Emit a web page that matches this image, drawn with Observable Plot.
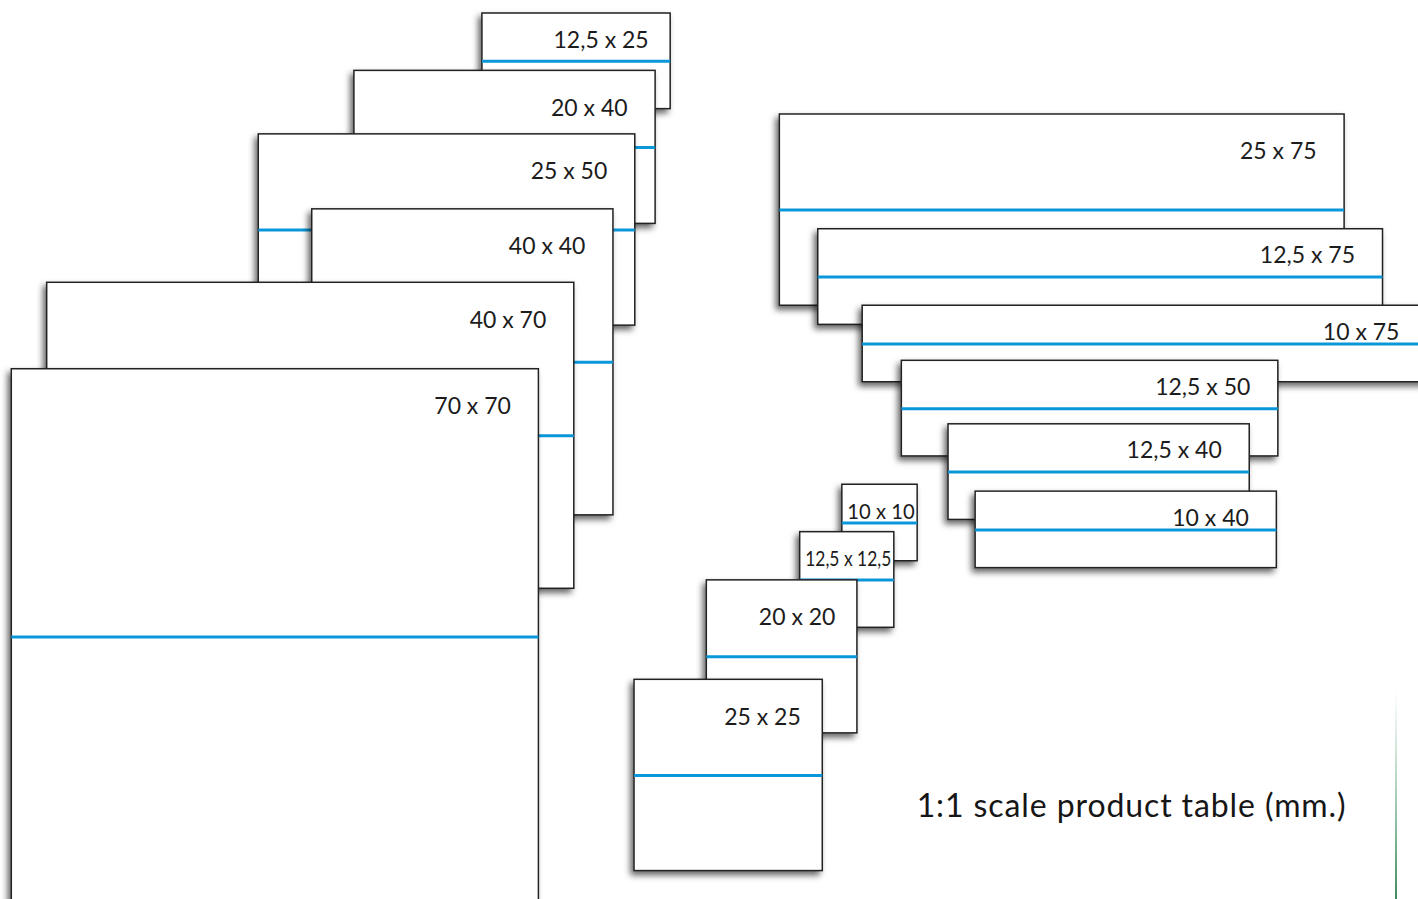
<!DOCTYPE html>
<html><head><meta charset="utf-8">
<script src="https://cdn.jsdelivr.net/npm/d3@7"></script>
<script src="https://cdn.jsdelivr.net/npm/@observablehq/plot@0.6"></script>
<style>html,body{margin:0;padding:0;background:#fff;overflow:hidden}</style>
</head><body><div id="chart"></div>
<script>
// Product sizes "height x width" in mm, back-to-front drawing order
const labels   = ["12,5 x 25","20 x 40","25 x 50","40 x 40","40 x 70","70 x 70",
                  "25 x 75","12,5 x 75","10 x 75","12,5 x 50","12,5 x 40","10 x 40",
                  "10 x 10","12,5 x 12,5","20 x 20","25 x 25"];
const heightMm = [12.5, 20, 25, 40, 40, 70, 25, 12.5, 10, 12.5, 12.5, 10, 10, 12.5, 20, 25];
const widthMm  = [25, 40, 50, 40, 70, 70, 75, 75, 75, 50, 40, 40, 10, 12.5, 20, 25];
// where each sample sits on the sheet (mm from the top-left corner)
const sheetX   = [64.0, 47.0, 34.3, 41.4, 6.2, 1.5, 103.5, 108.6, 114.5, 119.7, 125.9, 129.5, 111.8, 106.2, 93.8, 84.2];
const sheetY   = [1.7, 9.2, 17.5, 27.3, 36.9, 48.2, 14.9, 29.9, 39.9, 47.1, 55.4, 64.2, 63.3, 69.5, 75.8, 88.8];
const caption  = "1:1 scale product table (mm.)";

const W = 1418, H = 899;
const pxPerMmX = 7.53, pxPerMmY = 7.65;

const items = labels.map((label, i) => ({label, h: heightMm[i], w: widthMm[i], x: sheetX[i], y: sheetY[i]}));

const marks = items.flatMap(d => {
  const inset = d.w >= 40 ? 28 : d.w >= 20 ? 22 : 3;
  const base = d.h >= 20 ? 45 : 34;
  const fs = d.w < 20 ? 21 : 23;
  return [
    Plot.rect([d], {x1: "x", x2: v => v.x + v.w, y1: "y", y2: v => v.y + v.h,
      fill: "white", stroke: "#222", strokeWidth: 1.5}),
    Plot.ruleY([d], {y: v => v.y + v.h / 2, x1: "x", x2: v => v.x + v.w,
      stroke: "#0a97d9", strokeWidth: 3}),
    Plot.text([d], {x: v => v.x + v.w, y: "y", text: "label", textAnchor: "end", lineAnchor: "bottom",
      dx: -inset, dy: base, fontSize: fs, fill: "#1c1c1c"})
  ];
});

const chart = Plot.plot({
  width: W, height: H, margin: 0,
  x: {domain: [0, W / pxPerMmX], range: [0, W], axis: null},
  y: {domain: [0, H / pxPerMmY], range: [0, H], axis: null},
  style: {fontFamily: "Lato, 'Open Sans', sans-serif", background: "white"},
  marks: [
    ...marks,
    Plot.text([caption], {frameAnchor: "bottom-right", text: d => d, textAnchor: "end", lineAnchor: "bottom",
      dx: -72, dy: -83, fontSize: 32, fill: "#161616"})
  ]
});

document.getElementById("chart").append(chart);
const svg = d3.select(chart);
const defs = svg.insert("defs", ":first-child");
const f = defs.append("filter").attr("id", "shadow")
  .attr("x", "-20%").attr("y", "-20%").attr("width", "140%").attr("height", "140%");
f.append("feDropShadow").attr("dx", -3).attr("dy", 4).attr("stdDeviation", 3)
  .attr("flood-color", "#000").attr("flood-opacity", 0.6);
svg.selectAll('g[aria-label="rect"] rect').attr("filter", "url(#shadow)");

svg.selectAll('g[aria-label="text"] text').each(function(_, i) {
  if (i >= items.length) {
    this.style.letterSpacing = "0.9px";
    return;
  }
  const d = items[i];
  const avail = d.w * pxPerMmX - 8;
  const len = this.getComputedTextLength();
  if (len > avail) {
    this.setAttribute("textLength", avail);
    this.setAttribute("lengthAdjust", "spacingAndGlyphs");
  }
});

const grad = defs.append("linearGradient").attr("id", "edge").attr("x1", 0).attr("y1", 0).attr("x2", 0).attr("y2", 1);
grad.append("stop").attr("offset", "0%").attr("stop-color", "#6aae86").attr("stop-opacity", 0);
grad.append("stop").attr("offset", "100%").attr("stop-color", "#3d8c5c").attr("stop-opacity", 1);
svg.append("rect").attr("x", W - 23).attr("y", H - 210).attr("width", 2).attr("height", 210).attr("fill", "url(#edge)");
</script>
</body></html>
